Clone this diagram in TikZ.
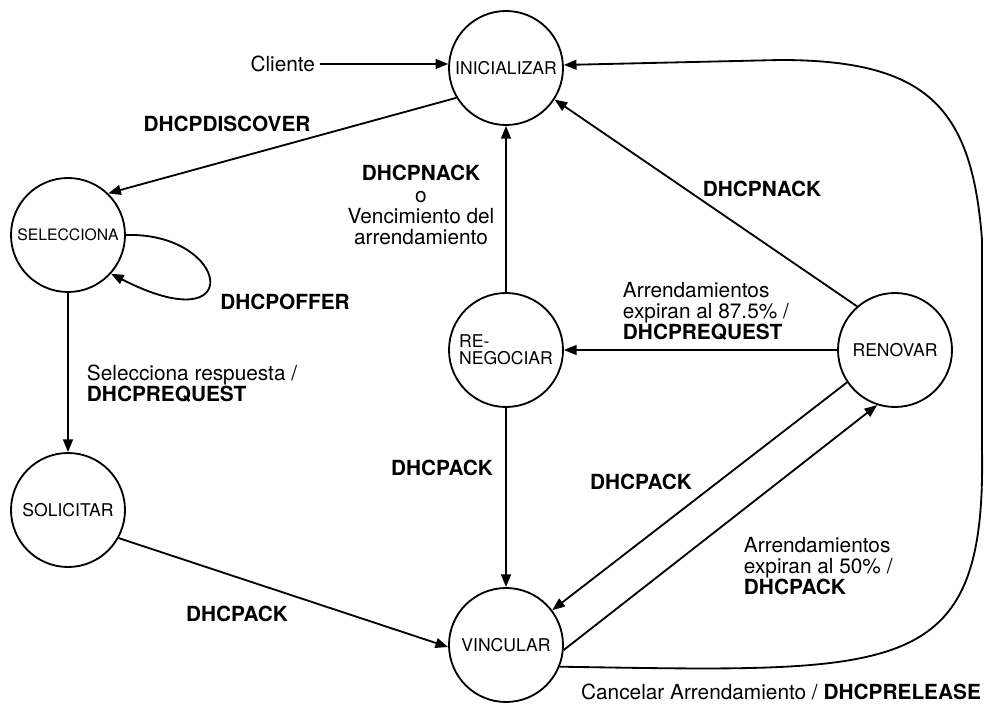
\documentclass[tikz,border=0pt]{standalone}
\usepackage{fontspec}
\setmainfont{TeX Gyre Heros}
\usetikzlibrary{arrows.meta}

\begin{document}
\begin{tikzpicture}[
  estado/.style={draw, circle, line width=1.3pt, minimum size=2.85cm, inner sep=0pt, align=left, font=\fontsize{12.5}{12}\selectfont},
  flecha/.style={line width=1.3pt, -{Triangle[length=9pt,width=7pt]}},
  etiq/.style={font=\fontsize{14.8}{15}\selectfont, align=left},
  negr/.style={etiq, font=\fontsize{14.8}{15}\selectfont\bfseries}]
\useasboundingbox (0,0) rectangle (24.625,17.6);
% estados
\foreach \n/\x/\y/\t in {ini/12.65/15.9/INICIALIZAR, sel/1.7/11.725/{\fontsize{11.2}{12}\selectfont SELECCIONA}, sol/1.7/4.85/SOLICITAR, reneg/12.65/8.85/{RE-\\NEGOCIAR}, vinc/12.65/1.475/VINCULAR, renov/22.375/8.85/RENOVAR}
\node[estado] (\n) at (\x,\y) {\t};
% etiquetas
\node[etiq] (cliente) at (7.07,16.0) {Cliente};
\node[negr] (lbdisc) at (5.675,14.5) {DHCPDISCOVER};
\node[negr] (lboffer) at (7.125,10.05) {DHCPOFFER};
\node[etiq, anchor=west] (lbsel) at (2.05,8.0) {Selecciona respuesta /\\\textbf{DHCPREQUEST}};
\node[negr] (lbsolack) at (5.925,2.25) {DHCPACK};
\node[etiq, align=center] (lbnack) at (10.525,12.475) {\textbf{DHCPNACK}\\o\\Vencimiento del\\arrendamiento};
\node[negr] (lbrenack) at (11.05,5.9) {DHCPACK};
\node[etiq, anchor=west] (lb875) at (15.45,9.825) {Arrendamientos\\expiran al 87.5\% /\\\textbf{DHCPREQUEST}};
\node[negr] (lbrnack) at (19.05,12.875) {DHCPNACK};
\node[negr] (lbrack) at (16.025,5.55) {DHCPACK};
\node[etiq, anchor=west] (lb50) at (18.475,3.45) {Arrendamientos\\expiran al 50\% /\\\textbf{DHCPACK}};
\node[etiq] (lbcancel) at (19.525,0.31) {Cancelar Arrendamiento / \textbf{DHCPRELEASE}};
% transiciones
\draw[flecha] (cliente.east) -- (ini.176);
\draw[flecha] (ini.211) -- (sel.46);
\draw[flecha] (sel.0) .. controls (5.75,11.8) and (6.2,9.0) .. (sel.-42);
\draw[flecha] (sel) -- (sol);
\draw[flecha] (sol.-29) -- (vinc.182);
\draw[flecha] (reneg) -- (ini);
\draw[flecha] (reneg) -- (vinc);
\draw[flecha] (renov) -- (reneg);
\draw[flecha] (renov.131) -- (ini.-33);
\draw[flecha] (renov.214) -- (vinc.37);
\draw[flecha] (vinc.-5) -- (renov.252);
\draw[flecha] (vinc.-22) .. controls (22.5,0.8) and (24.65,0.6) .. (24.55,6.35) -- (24.55,11.6) .. controls (24.3,14.9) and (23.2,16.1) .. (19.5,16.1) -- (ini.3);
\end{tikzpicture}
\end{document}
